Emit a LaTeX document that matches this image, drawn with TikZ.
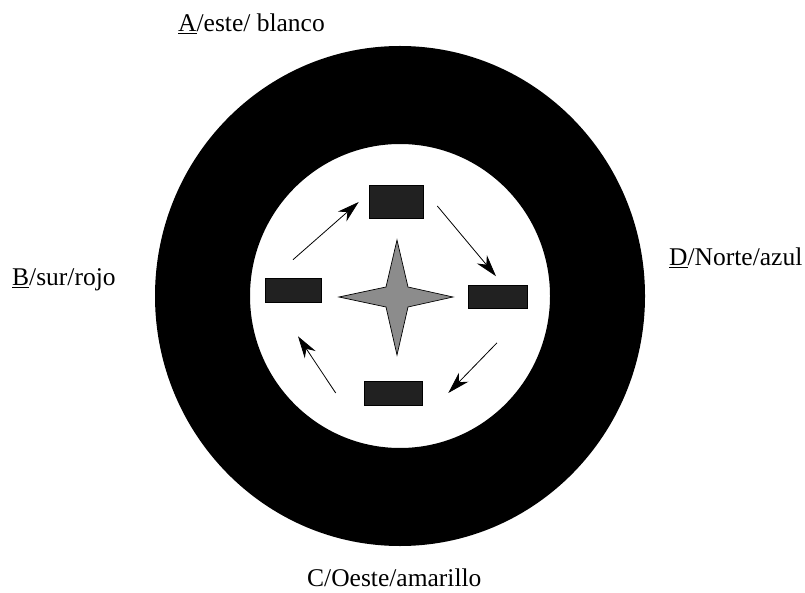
\documentclass[tikz,border=0pt]{standalone}
\usepackage{fontspec}
\setmainfont{Liberation Serif}
\usetikzlibrary{arrows.meta,calc}

\begin{document}
\begin{tikzpicture}[x=1pt, y=-1pt, font=\fontsize{25.5}{30}\selectfont,
        bloque/.style={draw=black, fill=black!87, line width=0.6pt, inner sep=0pt,
            minimum width=56pt, minimum height=24pt},
        flecha/.style={-{Stealth[length=22pt, width=13pt, inset=7pt]}, line width=0.8pt}]
        \useasboundingbox (0,0) rectangle (805,593);

        % anillo
        \coordinate (c) at (400,296);
        \fill[black, even odd rule] (c) ellipse (245pt and 250pt) (c) ellipse (150pt and 152pt);

        % estrella central
        \coordinate (s) at (397,297);
        \filldraw[fill=black!45, draw=black, line width=0.7pt]
            ($(s)+(0,-57)$) -- ($(s)+(11,-10)$) -- ($(s)+(56,0)$) -- ($(s)+(11,10)$)
            -- ($(s)+(0,58)$) -- ($(s)+(-11,10)$) -- ($(s)+(-58,0)$) -- ($(s)+(-11,-10)$) -- cycle;

        % bloques
        \node[bloque, minimum width=54pt, minimum height=33pt] (arriba) at (396,202) {};
        \node[bloque] (izq) at (293,290) {};
        \node[bloque, minimum width=59pt, minimum height=23pt] (der) at (498,297) {};
        \node[bloque, minimum width=58pt] (abajo) at (393,393) {};

        \draw[flecha] ([yshift=18pt]izq.north) -- ([xshift=-10pt]arriba.west);
        \draw[flecha] ([xshift=14pt, yshift=-4pt]arriba.east) -- ([xshift=-2pt, yshift=9pt]der.north);
        \draw[flecha] ([xshift=-1pt, yshift=-34pt]der.south) -- ([xshift=26pt]abajo.east);
        \draw[flecha] ([xshift=-28pt]abajo.west) -- ([xshift=5pt, yshift=-34pt]izq.south);

        % rumbos
        \node[anchor=base west, inner sep=0pt] (rumboA) at (178,32) {\underline{A}/este/ blanco};
        \node[anchor=base west, inner sep=0pt] (rumboB) at (12,286) {\underline{B}/sur/rojo};
        \node[anchor=base west, inner sep=0pt] (rumboC) at (307,586) {C/Oeste/amarillo};
        \node[anchor=base west, inner sep=0pt] (rumboD) at (669,266) {\underline{D}/Norte/azul};
    \end{tikzpicture}
\end{document}
